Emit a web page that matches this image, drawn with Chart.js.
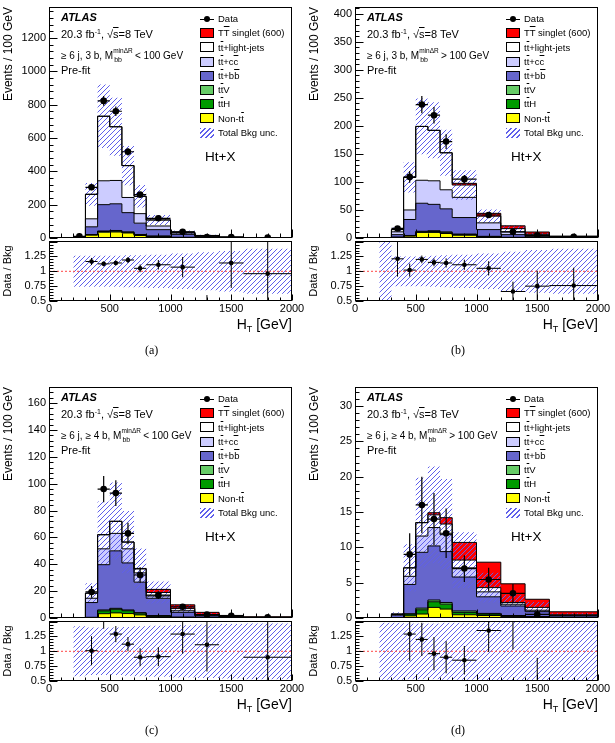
<!DOCTYPE html>
<html>
<head>
<meta charset="utf-8">
<title>Ht+X H_T distributions</title>
<script src="https://cdn.jsdelivr.net/npm/chart.js@4.4.1/dist/chart.umd.min.js"></script>
<style>
  html, body { margin: 0; padding: 0; background: #fff; }
  body { position: relative; width: 615px; height: 743px; overflow: hidden;
         font-family: "Liberation Sans", Arial, Helvetica, sans-serif; color: #000; }
  canvas { position: absolute; }
  .txt { position: absolute; white-space: nowrap; line-height: 1; }
  .ob { text-decoration: overline; }
  .ms { position: relative; display: inline-block; width: 19px; height: 8px; }
  .ms .up { position: absolute; left: 0; top: -3px; font-size: 6.5px; line-height: 1; }
  .ms .dn { position: absolute; left: 1px; top: 5px; font-size: 7px; line-height: 1; }
  .lbox { position: absolute; width: 14px; height: 10px; box-sizing: border-box; border: 1px solid #000; }
  .cap { font-family: "Liberation Serif", "Times New Roman", serif; font-size: 12px; }
</style>
</head>
<body>
<script>
Chart.defaults.font.family = '"Liberation Sans", Arial, Helvetica, sans-serif';
Chart.defaults.color = '#000';

// H_T bins (GeV) and data point centres / half widths
var binEdges = [200, 300, 400, 500, 600, 700, 800, 1000, 1200, 1400, 1600, 2000];
var dataX    = [250, 350, 450, 550, 650, 750, 900, 1100, 1300, 1500, 1800];
var dataXErr = [50, 50, 50, 50, 50, 50, 100, 100, 100, 100, 200];
var xTicks   = [0, 500, 1000, 1500, 2000];
var ratioTicks = [0.5, 0.75, 1, 1.25];

// (a) >=6j, 3b, M_bb < 100 GeV   (events / 100 GeV)
var a_yTicks  = [0, 200, 400, 600, 800, 1000, 1200];
var a_nonTt   = [0.3, 18, 35, 36, 30, 15, 7, 2.5, 1, 0.4, 0.2];
var a_ttH     = [0, 1, 4, 5, 4, 3, 3, 1, 0.3, 0.1, 0.05];
var a_ttV     = [0, 1, 3, 4, 3, 3, 2, 0.5, 0.2, 0.1, 0.05];
var a_ttbb    = [0.4, 47, 158, 160, 115, 68, 38, 18, 6.5, 2.4, 0.8];
var a_ttcc    = [0.3, 48, 143, 140, 91, 57, 22, 8, 4, 1, 0.5];
var a_ttlight = [0.7, 147, 387, 322, 191, 104, 36, 5, 3, 1, 0.5];
var a_signal  = [0, 0, 0, 0, 0, 0, 0.3, 0.3, 0.2, 0.1, 0.05];
var a_unc     = [0.26, 0.26, 0.26, 0.26, 0.27, 0.27, 0.28, 0.30, 0.32, 0.34, 0.38];
var a_data    = [10, 304, 822, 760, 517, 260, 118, 37, 6, 5.7, 2];
var a_dataErr = [20, 17, 29, 28, 23, 16, 8, 4.3, 1.7, 1.7, 0.7];
var a_ratio    = [null, 1.165, 1.125, 1.14, 1.19, 1.05, 1.11, 1.07, 0.4, 1.14, 0.96];
var a_ratioErr = [0, 0.06, 0.04, 0.04, 0.05, 0.065, 0.08, 0.17, 0.2, 0.42, 0.65];

// (b) >=6j, 3b, M_bb > 100 GeV
var b_yTicks  = [0, 50, 100, 150, 200, 250, 300, 350, 400];
var b_nonTt   = [0.1, 1, 3.5, 10, 10, 8, 5, 2, 0.8, 0.3, 0.1];
var b_ttH     = [0, 0.3, 0.5, 1, 1.5, 1.5, 1, 0.5, 0.2, 0.1, 0.05];
var b_ttV     = [0, 0.2, 0.5, 1, 1.5, 1.5, 1, 0.5, 0.2, 0.1, 0.05];
var b_ttbb    = [0.1, 4.5, 28.5, 50, 47, 41, 29.5, 12, 4.8, 2, 0.8];
var b_ttcc    = [0.1, 5, 17, 41, 42, 34, 36, 12, 5, 2, 0.7];
var b_ttlight = [0.2, 4, 58, 96, 90, 66, 22, 12, 5.7, 2.2, 0.9];
var b_signal  = [0, 0, 0, 0, 0, 0, 3, 5, 5, 4, 0.8];
var b_unc     = [1.0, 0.25, 0.25, 0.25, 0.26, 0.27, 0.28, 0.30, 0.33, 0.36, 0.38];
var b_data    = [null, 17, 109, 238, 219, 172, 105, 41, 11, 5, 2];
var b_dataErr = [0, 4.1, 10.4, 15.4, 14.8, 13.1, 7.2, 4.5, 2.3, 1.6, 0.7];
var b_ratio    = [null, 1.21, 1.02, 1.20, 1.15, 1.14, 1.11, 1.05, 0.66, 0.75, 0.76];
var b_ratioErr = [0, 0.3, 0.11, 0.065, 0.065, 0.077, 0.085, 0.12, 0.165, 0.26, 0.3];

// (c) >=6j, >=4b, M_bb < 100 GeV
var c_yTicks  = [0, 20, 40, 60, 80, 100, 120, 140, 160];
var c_nonTt   = [0.05, 0.3, 3.2, 3.8, 3.3, 2.3, 1, 0.35, 0.12, 0.06, 0.03];
var c_ttH     = [0, 0.1, 2.1, 2.7, 2.1, 1.3, 0.6, 0.2, 0.06, 0.03, 0.01];
var c_ttV     = [0, 0.1, 0.7, 0.7, 0.6, 0.4, 0.2, 0.05, 0.02, 0.01, 0.01];
var c_ttbb    = [0.1, 11, 33.7, 42.8, 35, 22.7, 12.9, 3.6, 1.3, 0.5, 0.25];
var c_ttcc    = [0.05, 3.2, 11.8, 13, 10.5, 6.9, 1.7, 1.2, 0.5, 0.3, 0.1];
var c_ttlight = [0.1, 3.8, 10.5, 9, 5, 2.9, 2.6, 1.6, 0.4, 0.3, 0.15];
var c_signal  = [0, 0, 0, 0, 0.1, 0.4, 2.3, 2.8, 1.8, 0.7, 0.3];
var c_unc     = [0.42, 0.40, 0.40, 0.40, 0.41, 0.42, 0.43, 0.44, 0.45, 0.46, 0.47];
var c_data    = [null, 19.4, 96, 93, 63, 32, 17, 8.3, 2.5, 1.7, 0.5];
var c_dataErr = [0, 4.4, 9.8, 9.6, 8, 5.7, 2.9, 2, 1.1, 0.9, 0.35];
var c_ratio    = [null, 1.01, 1.55, 1.29, 1.12, 0.90, 0.91, 1.29, 1.11, null, 0.9];
var c_ratioErr = [0, 0.245, 0.17, 0.136, 0.12, 0.15, 0.16, 0.33, 0.45, 0, 0.9];

// (d) >=6j, >=4b, M_bb > 100 GeV
var d_yTicks  = [0, 5, 10, 15, 20, 25, 30];
var d_nonTt   = [0, 0.02, 0.3, 0.56, 1.5, 1.26, 0.46, 0.35, 0.2, 0.1, 0.05];
var d_ttH     = [0, 0.02, 0.25, 0.6, 0.8, 0.7, 0.34, 0.2, 0.1, 0.05, 0.03];
var d_ttV     = [0, 0.01, 0.05, 0.24, 0.25, 0.24, 0.2, 0.1, 0.05, 0.05, 0.02];
var d_ttbb    = [0, 0.35, 4.15, 7.9, 7.65, 7.2, 4.8, 2.35, 1.35, 0.7, 0.2];
var d_ttcc    = [0, 0.1, 1.15, 2.3, 2.6, 2.4, 1.3, 0.7, 0.25, 0.2, 0.08];
var d_ttlight = [0, 0.06, 1.2, 1.9, 1.8, 1.5, 1.1, 0.6, 0.25, 0.4, 0.07];
var d_signal  = [0, 0, 0, 0, 0.3, 0.9, 2.5, 3.6, 2.64, 1.15, 0.43];
var d_unc     = [0.48, 0.48, 0.47, 0.47, 0.47, 0.48, 0.48, 0.49, 0.5, 0.5, 0.5];
var d_data    = [null, null, 9, 16, 14, 12, 7, 5.45, 3.5, 0.5, null];
var d_dataErr = [0, 0, 3, 4, 3.7, 3.5, 1.9, 1.65, 1.3, 0.5, 0];
var d_ratio    = [null, null, 1.29, 1.20, 0.96, 0.90, 0.85, 1.35, 1.6, 0.33, null];
var d_ratioErr = [0, 0, 0.45, 0.28, 0.28, 0.27, 0.24, 0.36, 0.57, 0.56, 0];

// legend labels, bottom->top stack colours
var legendLabels = ['Data', 'T<span class="ob">T</span> singlet (600)', 't<span class="ob">t</span>+light-jets',
  't<span class="ob">t</span>+c<span class="ob">c</span>', 't<span class="ob">t</span>+b<span class="ob">b</span>',
  't<span class="ob">t</span>V', 't<span class="ob">t</span>H', 'Non-t<span class="ob">t</span>', 'Total Bkg unc.'];
var stackColors = ['#ffff00', '#009a00', '#66cc66', '#6666cc', '#ccccff', '#ffffff', '#ff0000']; // nonTt, ttH, ttV, bb, cc, light, signal
var hatchColor = 'rgb(95,95,235)';

var panels = [
  { tag: '(a)', sel: '&ge; 6 j, 3 b, M', cmp: '&lt;', col: 0, row: 0, yMax: 1385, yTicks: a_yTicks, yMinor: 40,
    comps: [a_nonTt, a_ttH, a_ttV, a_ttbb, a_ttcc, a_ttlight, a_signal], unc: a_unc,
    data: a_data, dataErr: a_dataErr, ratio: a_ratio, ratioErr: a_ratioErr },
  { tag: '(b)', sel: '&ge; 6 j, 3 b, M', cmp: '&gt;', col: 1, row: 0, yMax: 412, yTicks: b_yTicks, yMinor: 10,
    comps: [b_nonTt, b_ttH, b_ttV, b_ttbb, b_ttcc, b_ttlight, b_signal], unc: b_unc,
    data: b_data, dataErr: b_dataErr, ratio: b_ratio, ratioErr: b_ratioErr },
  { tag: '(c)', sel: '&ge; 6 j, &ge; 4 b, M', cmp: '&lt;', col: 0, row: 1, yMax: 172, yTicks: c_yTicks, yMinor: 4,
    comps: [c_nonTt, c_ttH, c_ttV, c_ttbb, c_ttcc, c_ttlight, c_signal], unc: c_unc,
    data: c_data, dataErr: c_dataErr, ratio: c_ratio, ratioErr: c_ratioErr },
  { tag: '(d)', sel: '&ge; 6 j, &ge; 4 b, M', cmp: '&gt;', col: 1, row: 1, yMax: 32.7, yTicks: d_yTicks, yMinor: 1,
    comps: [d_nonTt, d_ttH, d_ttV, d_ttbb, d_ttcc, d_ttlight, d_signal], unc: d_unc,
    data: d_data, dataErr: d_dataErr, ratio: d_ratio, ratioErr: d_ratioErr }
];

function hatch() {
  var s = 5, c = document.createElement('canvas');
  c.width = s; c.height = s;
  var g = c.getContext('2d');
  g.strokeStyle = hatchColor; g.lineWidth = 1;
  g.beginPath();
  g.moveTo(0, s); g.lineTo(s, 0);
  g.moveTo(-1, 1); g.lineTo(1, -1);
  g.moveTo(s - 1, s + 1); g.lineTo(s + 1, s - 1);
  g.stroke();
  return g.createPattern(c, 'repeat');
}
var hatchPattern = hatch();

function steps(vals) {
  var pts = vals.map(function (v, i) { return { x: binEdges[i], y: v }; });
  pts.push({ x: binEdges[binEdges.length - 1], y: vals[vals.length - 1] });
  return pts;
}

function eachTick(min, max, minor, major, fn) {
  var n0 = Math.ceil(min / minor - 1e-9), n1 = Math.floor(max / minor + 1e-9);
  for (var n = n0; n <= n1; n++) {
    var v = n * minor;
    fn(v, Math.abs(v / major - Math.round(v / major)) < 1e-6);
  }
}

// frame box + inward ticks, ROOT style
var framePlugin = {
  id: 'frame',
  afterDatasetsDraw: function (chart, args, o) {
    var ctx = chart.ctx, a = chart.chartArea, xs = chart.scales.x, ys = chart.scales.y;
    var L = Math.round(a.left) + 0.5, R = Math.round(a.right) - 0.5;
    var T = Math.round(a.top) + 0.5, B = Math.round(a.bottom) - 0.5;
    ctx.save();
    ctx.strokeStyle = '#000'; ctx.lineWidth = 1;
    ctx.strokeRect(L, T, R - L, B - T);
    ctx.beginPath();
    eachTick(ys.min, ys.max, o.yMinor, o.yMajor, function (v, major) {
      var y = Math.round(ys.getPixelForValue(v)) + 0.5;
      ctx.moveTo(L, y); ctx.lineTo(L + (major ? o.yLen : o.yLen / 2), y);
    });
    eachTick(0, 2000, 100, 500, function (v, major) {
      var x = Math.round(xs.getPixelForValue(v)) + 0.5;
      ctx.moveTo(x, B); ctx.lineTo(x, B - (major ? o.xLen : o.xLen / 2));
    });
    ctx.stroke();
    ctx.restore();
  }
};

// data error bars (x: bin width, y: stat)
var errorPlugin = {
  id: 'errorBars',
  afterDatasetsDraw: function (chart) {
    var ctx = chart.ctx, a = chart.chartArea, xs = chart.scales.x, ys = chart.scales.y;
    ctx.save();
    ctx.beginPath(); ctx.rect(a.left, a.top, a.right - a.left, a.bottom - a.top); ctx.clip();
    ctx.strokeStyle = '#000';
    chart.data.datasets.forEach(function (ds) {
      if (!ds.errY) return;
      ctx.lineWidth = ds.errWidth;
      ctx.beginPath();
      ds.data.forEach(function (p, i) {
        if (p.y === null) return;
        var px = xs.getPixelForValue(p.x), py = ys.getPixelForValue(p.y);
        ctx.moveTo(xs.getPixelForValue(p.x - ds.errX[i]), py);
        ctx.lineTo(xs.getPixelForValue(p.x + ds.errX[i]), py);
        ctx.moveTo(px, ys.getPixelForValue(p.y - ds.errY[i]));
        ctx.lineTo(px, ys.getPixelForValue(p.y + ds.errY[i]));
      });
      ctx.stroke();
    });
    ctx.restore();
  }
};

function makeCanvas(left, top, w, h) {
  var c = document.createElement('canvas');
  c.width = w; c.height = h;
  c.style.left = left + 'px'; c.style.top = top + 'px';
  c.style.width = w + 'px'; c.style.height = h + 'px';
  document.body.appendChild(c);
  return c;
}

function addHtml(html, left, top, css, cls) {
  var d = document.createElement('div');
  d.className = cls || 'txt';
  d.style.left = left + 'px'; d.style.top = top + 'px';
  if (css) d.style.cssText += css;
  d.innerHTML = html;
  document.body.appendChild(d);
  return d;
}

function yFit(s) { s.width = 49; s.paddingTop = 0; s.paddingBottom = 0; }
function plain(v) { return String(v); }
function fixedTicks(list) {
  return function (s) { s.ticks = list.map(function (v) { return { value: v }; }); };
}

panels.forEach(function (p) {
  var dx = p.col * 306, dy = p.row * 380;

  // cumulative stack, bottom -> top
  var run = p.comps[0].map(function () { return 0; });
  var cum = p.comps.map(function (arr) {
    run = run.map(function (r, i) { return r + arr[i]; });
    return run;
  });
  var bkg = cum[5];
  var up = bkg.map(function (v, i) { return v * (1 + p.unc[i]); });
  var lo = bkg.map(function (v, i) { return v * (1 - p.unc[i]); });

  var mainSets = [
    { data: dataX.map(function (x, i) { return { x: x, y: p.data[i] }; }), showLine: false,
      pointRadius: 3.3, pointBackgroundColor: '#000', pointBorderColor: '#000', pointBorderWidth: 0,
      errX: dataXErr, errY: p.dataErr, errWidth: 1.2, clip: 0 },
    { data: steps(up), stepped: true, fill: '+1', backgroundColor: hatchPattern,
      borderColor: 'rgba(0,0,0,0)', borderWidth: 1, pointRadius: 0 },
    { data: steps(lo), stepped: true, fill: false, borderColor: 'rgba(0,0,0,0)', borderWidth: 1, pointRadius: 0 }
  ];
  for (var k = cum.length - 1; k >= 0; k--) {
    mainSets.push({ data: steps(cum[k]), stepped: true, fill: k === 0 ? 'origin' : '+1',
      backgroundColor: stackColors[k], borderColor: '#000', borderWidth: 1, pointRadius: 0 });
  }

  new Chart(makeCanvas(dx, dy, 296, 242), {
    type: 'line',
    data: { datasets: mainSets },
    plugins: [errorPlugin, framePlugin],
    options: {
      responsive: false, maintainAspectRatio: false, animation: false, events: [],
      layout: { padding: { top: 7, right: 4, bottom: 1, left: 0 } },
      plugins: {
        legend: { display: false }, tooltip: { enabled: false },
        filler: { drawTime: 'beforeDatasetsDraw' },
        frame: { yMinor: p.yMinor, yMajor: p.yTicks[1], yLen: 8, xLen: 8 }
      },
      scales: {
        x: { type: 'linear', min: 0, max: 2000, display: false },
        y: { type: 'linear', min: 0, max: p.yMax,
          grid: { display: false, drawTicks: false }, border: { display: false },
          ticks: { padding: 3, font: { size: 11 }, autoSkip: false, callback: plain },
          afterBuildTicks: fixedTicks(p.yTicks),
          title: { display: true, text: 'Events / 100 GeV', align: 'end', font: { size: 12 }, padding: { top: 1, bottom: 0 } },
          afterFit: yFit }
      }
    }
  });

  var ratioSets = [
    { data: dataX.map(function (x, i) { return { x: x, y: p.ratio[i] }; }), showLine: false,
      pointRadius: 2.3, pointBackgroundColor: '#000', pointBorderColor: '#000', pointBorderWidth: 0,
      errX: dataXErr, errY: p.ratioErr, errWidth: 1, clip: 0 },
    { data: [{ x: 0, y: 1 }, { x: 2000, y: 1 }], borderColor: 'rgb(255,70,70)', borderWidth: 1,
      borderDash: [2, 2], pointRadius: 0, fill: false },
    { data: steps(p.unc.map(function (u) { return 1 + u; })), stepped: true, fill: '+1',
      backgroundColor: hatchPattern, borderColor: 'rgba(0,0,0,0)', borderWidth: 1, pointRadius: 0 },
    { data: steps(p.unc.map(function (u) { return 1 - u; })), stepped: true, fill: false,
      borderColor: 'rgba(0,0,0,0)', borderWidth: 1, pointRadius: 0 }
  ];

  new Chart(makeCanvas(dx, dy + 236, 308, 87), {
    type: 'line',
    data: { datasets: ratioSets },
    plugins: [errorPlugin, framePlugin],
    options: {
      responsive: false, maintainAspectRatio: false, animation: false, events: [],
      layout: { padding: { top: 5, right: 16, bottom: 2, left: 0 } },
      plugins: {
        legend: { display: false }, tooltip: { enabled: false },
        filler: { drawTime: 'beforeDatasetsDraw' },
        frame: { yMinor: 0.05, yMajor: 0.25, yLen: 8, xLen: 6 }
      },
      scales: {
        x: { type: 'linear', min: 0, max: 2000,
          grid: { display: false, drawTicks: false }, border: { display: false },
          ticks: { padding: 1, font: { size: 11 }, autoSkip: false, maxRotation: 0, callback: plain },
          afterBuildTicks: fixedTicks(xTicks),
          afterFit: function (s) { s.height = 20; s.paddingLeft = 0; s.paddingRight = 0; } },
        y: { type: 'linear', min: 0.5, max: 1.51,
          grid: { display: false, drawTicks: false }, border: { display: false },
          ticks: { padding: 3, font: { size: 11 }, autoSkip: false, callback: plain },
          afterBuildTicks: fixedTicks(ratioTicks),
          title: { display: true, text: 'Data / Bkg', font: { size: 11 }, padding: { top: 1, bottom: 0 } },
          afterFit: yFit }
      }
    }
  });

  // annotations
  addHtml('ATLAS', 61 + dx, 12 + dy, 'font-size:11px;font-weight:bold;font-style:italic;');
  addHtml('20.3 fb<span style="font-size:7px;position:relative;top:-4px;">-1</span>, &radic;<span class="ob">s</span>=8 TeV',
    61 + dx, 28.5 + dy, 'font-size:11px;');
  addHtml(p.sel + '<span class="ms"><span class="up">min&Delta;R</span><span class="dn">bb</span></span> ' + p.cmp + ' 100 GeV',
    61 + dx, 50.7 + dy, 'font-size:10px;');
  addHtml('Pre-fit', 61 + dx, 65.2 + dy, 'font-size:11px;');
  addHtml('Ht+X', 205 + dx, 150 + dy, 'font-size:13.5px;');

  // legend
  var fills = [null, stackColors[6], stackColors[5], stackColors[4], stackColors[3], stackColors[2], stackColors[1], stackColors[0], 'hatch'];
  legendLabels.forEach(function (lab, i) {
    var cy = 19 + 14.2 * i + dy;
    if (i === 0) {
      addHtml('', 199.5 + dx, cy - 0.5, 'width:14px;height:1px;background:#000;');
      addHtml('', 203.5 + dx, cy - 3, 'width:6px;height:6px;border-radius:50%;background:#000;');
    } else if (fills[i] === 'hatch') {
      addHtml('', 199.5 + dx, cy - 5, 'width:14px;height:10px;background:repeating-linear-gradient(135deg,' + hatchColor + ' 0 1px, rgba(255,255,255,0) 1px 3.5px);');
    } else {
      addHtml('', 199.5 + dx, cy - 5, 'background:' + fills[i] + ';', 'lbox');
    }
    addHtml(lab, 218 + dx, cy - 4.8, 'font-size:9.5px;');
  });

  // x title + caption
  addHtml('H<span style="font-size:9px;position:relative;top:3px;">T</span> [GeV]', 0, 317 + dy,
    'font-size:14px;left:auto;right:' + (615 - 292 - dx) + 'px;');
  addHtml(p.tag, 153 + dx - 8, 344 + dy, '', 'txt cap');
});
</script>
</body>
</html>
